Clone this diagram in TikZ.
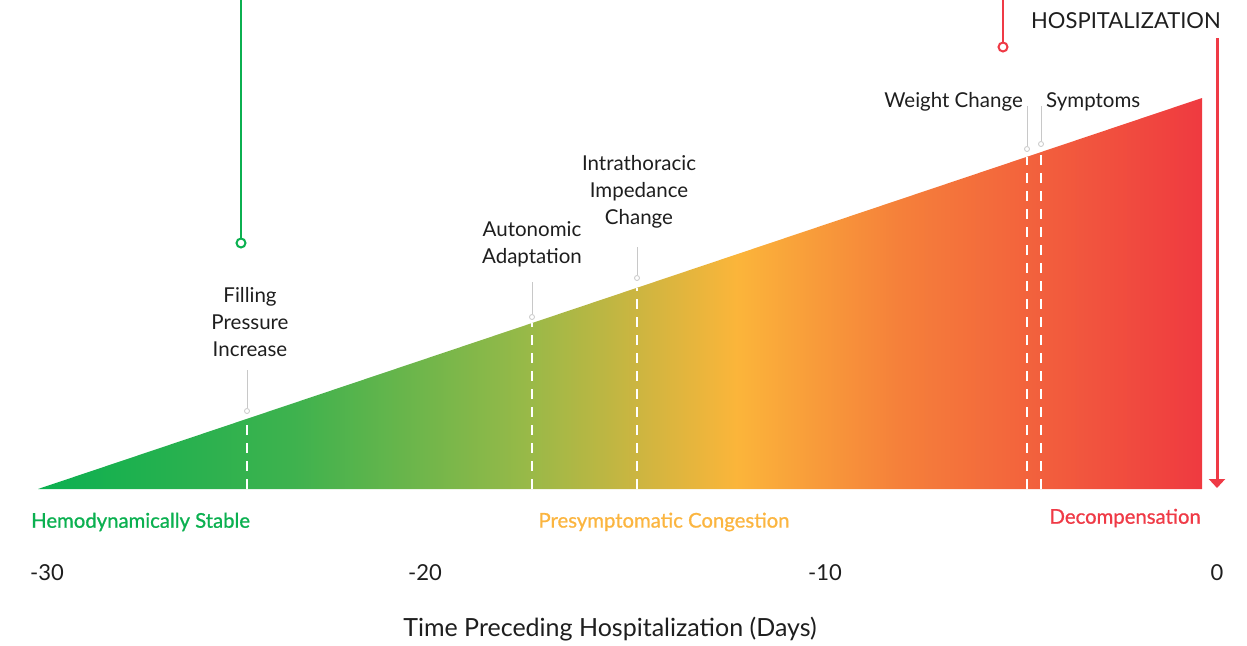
\documentclass[tikz,border=0pt]{standalone}
\usepackage{fontspec}
\setmainfont{Lato}
\newfontfamily\phasefont{Lato}[FakeBold=0.9]
\usetikzlibrary{arrows.meta}
\definecolor{hgreen}{RGB}{11,176,80}
\definecolor{horange}{RGB}{251,181,64}
\definecolor{hred}{RGB}{239,58,70}
\definecolor{hgray}{RGB}{200,200,200}
\definecolor{htext}{RGB}{30,30,30}
% left-to-right ramp; stops span 25bp..75bp, the part TikZ fits to the path
\pgfdeclarehorizontalshading{riskramp}{100bp}{%
  color(0bp)=(hgreen);
  color(25bp)=(hgreen);
  color(36bp)=(rgb,255:red,62;green,178;blue,78);
  color(46bp)=(rgb,255:red,152;green,185;blue,72);
  color(51bp)=(rgb,255:red,207;green,181;blue,64);
  color(55bp)=(rgb,255:red,251;green,181;blue,58);
  color(62bp)=(rgb,255:red,245;green,128;blue,58);
  color(75bp)=(rgb,255:red,239;green,58;blue,64);
  color(100bp)=(rgb,255:red,239;green,58;blue,64)}
\tikzset{
  lbl/.style={text=htext, font=\fontsize{20.5}{27}\selectfont, inner sep=0pt, align=center},
  phase/.style={font=\phasefont\fontsize{20.3}{24}\selectfont, inner sep=0pt},
  tick/.style={text=htext, font=\fontsize{22}{26}\selectfont, inner sep=0pt},
  leader/.style={draw=hgray, line width=1pt},
  tipdot/.style={circle, draw=hgray, fill=white, line width=0.8pt, minimum size=5pt, inner sep=0pt},
  onset/.style={white, line width=1.6pt, dash pattern=on 10pt off 8pt},
  trigger/.style={line width=2.6pt},
  triggerdot/.style={circle, draw, fill=white, line width=2pt, minimum size=9pt, inner sep=0pt},
}
\begin{document}
\begin{tikzpicture}[x=1pt,y=-1pt]
\useasboundingbox (0,0) rectangle (1247,645);

% rising risk wedge
\coordinate (w0) at (38,489);
\coordinate (w1) at (1202,489);
\coordinate (w2) at (1202,98);
\shade[shading=riskramp] (w0) -- (w1) -- (w2) -- cycle;

% event onsets: white dashes inside the wedge
\foreach \n/\x/\y in {fp/247/419, aa/532/323, ic/637/288, wc/1027/157, sy/1041/152}{
  \coordinate (\n base) at (\x,489);
  \coordinate (\n edge) at (\x,\y);
  \draw[onset] (\n base) -- (\n edge);
}

% event labels with grey leaders
\node[lbl] (fp) at (250,322) {Filling\\Pressure\\Increase};
\node[lbl] (aa) at (532,244) {Autonomic\\Adaptation};
\node[lbl] (ic) at (639,192) {Intrathoracic\\Impedance\\Change};
\node[lbl, anchor=east] (wc) at (1023,102) {Weight Change};
\node[lbl, anchor=west] (sy) at (1046,102) {Symptoms};

\node[tipdot] (fpdot) at (247,411) {};
\node[tipdot] (aadot) at (532,317) {};
\node[tipdot] (icdot) at (637,278) {};
\node[tipdot] (wcdot) at (1027,149) {};
\node[tipdot] (sydot) at (1041,144) {};
\coordinate (fptop) at (247,370);
\coordinate (aatop) at (532,282);
\coordinate (ictop) at (637,247);
\coordinate (wctop) at (1027,106);
\coordinate (sytop) at (1041,106);
\foreach \n in {fp,aa,ic,wc,sy}{
  \draw[leader] (\n top) -- (\n dot.north);
}

% green and red trigger lines from the top edge
\coordinate (gtop) at (241,0);
\node[triggerdot, draw=hgreen] (gdot) at (241,243) {};
\draw[trigger, draw=hgreen] (gtop) -- (gdot.north);
\coordinate (rtop) at (1003,0);
\node[triggerdot, draw=hred] (rdot) at (1003,47) {};
\draw[trigger, draw=hred] (rtop) -- (rdot.north);

% hospitalization marker
\node[text=htext, font=\fontsize{22}{24}\selectfont, inner sep=0pt, anchor=east] (hosp) at (1221,21) {HOSPITALIZATION};
\coordinate (hstart) at (1217,38);
\coordinate (hend) at (1217,488);
\draw[trigger, line width=3pt, draw=hred, -{Triangle[width=16pt,length=9pt]}] (hstart) -- (hend);

% phase names
\node[phase, text=hgreen, anchor=west] (stable) at (31,522) {Hemodynamically Stable};
\node[phase, text=horange] (presym) at (664,522) {Presymptomatic Congestion};
\node[phase, text=hred, anchor=east] (decomp) at (1201,518) {Decompensation};

% time axis
\node[tick] (t30) at (47,573) {-30};
\node[tick] (t20) at (425,573) {-20};
\node[tick] (t10) at (825,573) {-10};
\node[tick] (t0) at (1217,573) {0};
\node[tick, font=\fontsize{25}{30}\selectfont] (axis) at (610,629) {Time Preceding Hospitalization (Days)};
\end{tikzpicture}
\end{document}
